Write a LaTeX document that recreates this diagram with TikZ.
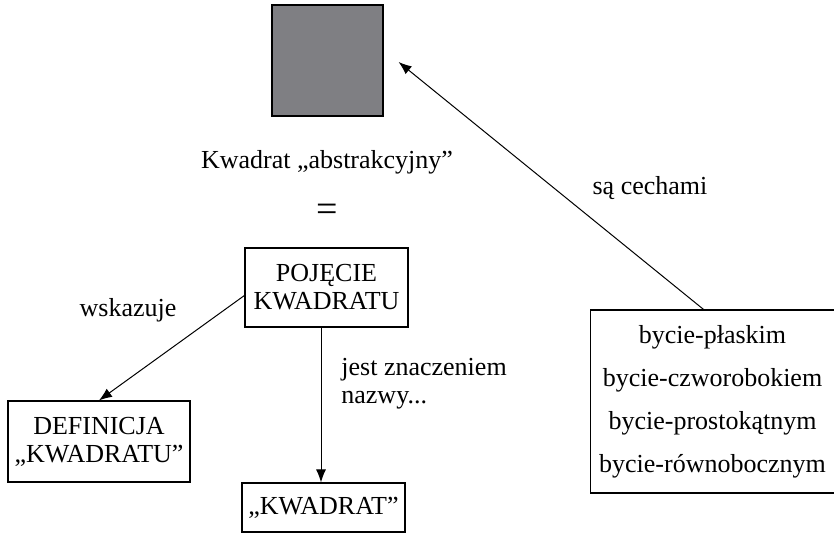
\documentclass[tikz,border=0pt]{standalone}
\usepackage{fontspec}
\setmainfont{Liberation Serif}
\usepackage{xcolor}
\usetikzlibrary{arrows.meta,positioning}
\definecolor{squaregray}{HTML}{7F7F83}

\begin{document}
\begin{tikzpicture}[
  x=0.5pt, y=-0.5pt,
  node distance=5mm,
  box/.style={rectangle, draw, line width=0.6pt, align=center, inner sep=2pt, font=\fontsize{13}{14}\selectfont},
  lbl/.style={font=\fontsize{13}{14}\selectfont, inner sep=0pt},
  arr/.style={-{Latex[length=6.5pt,width=5pt]}, line width=0.5pt}
]
\useasboundingbox (0,0) rectangle (834,534);
\node[draw, line width=0.6pt, fill=squaregray, minimum size=55.5pt, inner sep=0pt] (sq) at (327.5,60.5) {};
\node[lbl] (abstr) at (327,162) {Kwadrat „abstrakcyjny”};
\node[lbl, font=\fontsize{19}{20}\selectfont] (eq) at (327,213) {=};
\node[box, minimum width=81.5pt, minimum height=39.5pt] (pojecie) at (326.5,287.5) {POJĘCIE\\KWADRATU};
\node[box, minimum width=91pt, minimum height=40.5pt] (def) at (99,441.5) {DEFINICJA\\„KWADRATU”};
\node[box, minimum width=81.5pt, minimum height=24.5pt] (kw) at (323.5,507.5) {„KWADRAT”};
\node[box, minimum width=122pt, minimum height=91.5pt, font=\fontsize{13}{21.5}\selectfont] (cechy) at (712.5,401.5)
  {bycie-płaskim\\bycie-czworobokiem\\bycie-prostokątnym\\bycie-równobocznym};
\node[lbl] (wsk) at (128,310) {wskazuje};
\node[lbl, anchor=west, align=left, font=\fontsize{13}{14}\selectfont] (znacz) at (341,384) {jest znaczeniem\\nazwy...};
\node[lbl] (cech) at (650,188) {są cechami};
% strzalki
\draw[arr] ([yshift=-4pt]pojecie.west) -- (def.north);
\draw[arr] ([xshift=-2.75pt]pojecie.south) -- ([xshift=-2.75pt]pojecie.south |- kw.north);
\draw[arr] ([xshift=-4.5pt]cechy.north) -- ([xshift=7.5pt,yshift=-0.75pt]sq.east);
\end{tikzpicture}
\end{document}
